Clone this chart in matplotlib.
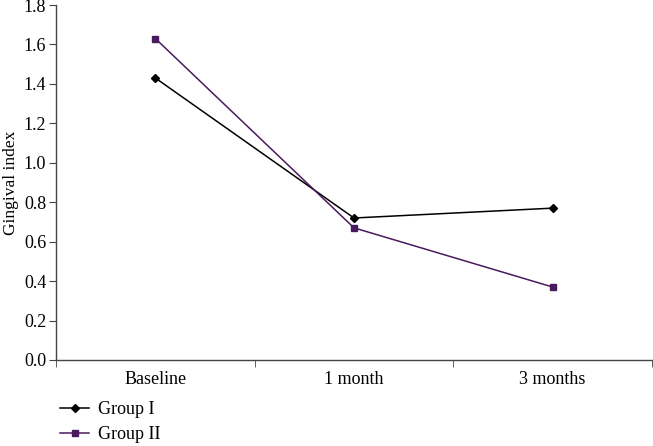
import matplotlib.pyplot as plt
import numpy as np

categories = ["Baseline", "1 month", "3 months"]
group1 = [1.43, 0.72, 0.77]
group2 = [1.63, 0.67, 0.37]
yticks = [0.0, 0.2, 0.4, 0.6, 0.8, 1.0, 1.2, 1.4, 1.6, 1.8]

plt.rcParams['font.family'] = ['Liberation Serif', 'DejaVu Serif']
fs = 13

fig = plt.figure(figsize=(6.53, 4.46), dpi=100)
ax = fig.add_axes([56 / 653, 1 - 360 / 446, 596 / 653, 355 / 446])

x = np.arange(len(categories))
ax.plot(x, group1, color='black', marker='D', markersize=4, linewidth=1.1, label='Group I')
ax.plot(x, group2, color='#4a1a5e', marker='s', markersize=5, linewidth=1.1, label='Group II')

ax.set_xlim(-0.5, 2.5)
ax.set_ylim(0, 1.8)
ax.set_yticks(yticks)
ax.set_yticklabels([f"{v:.1f}" for v in yticks], fontsize=fs)
ax.set_xticks(x)
ax.set_xticklabels(categories, fontsize=fs)
ax.tick_params(axis='x', length=0, pad=8)
ax.set_xticks([-0.5, 0.5, 1.5, 2.5], minor=True)
ax.tick_params(axis='x', which='minor', length=5, color='#444444')
ax.tick_params(axis='y', length=5, color='#444444', pad=2)
ax.set_ylabel('Gingival index', fontsize=12.5)
ax.yaxis.set_label_coords(-0.062, 0.5)

for s in ['top', 'right']:
    ax.spines[s].set_visible(False)
for s in ['left', 'bottom']:
    ax.spines[s].set_color('#444444')
    ax.spines[s].set_linewidth(1.0)

ax.legend(loc='upper left', bbox_to_anchor=(-0.005, -0.095), frameon=False,
          fontsize=fs, handlelength=1.6, handletextpad=0.5, labelspacing=0.45,
          borderaxespad=0)

fig.savefig('out.png', dpi=100)
